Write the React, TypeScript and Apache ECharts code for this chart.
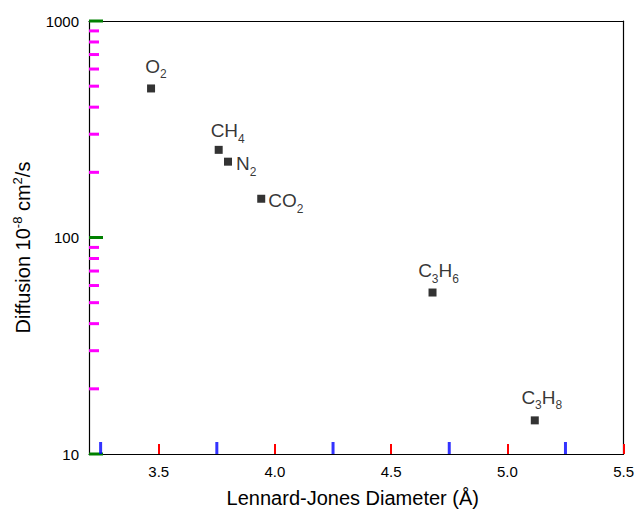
import React, { useEffect, useRef } from "react";
import * as echarts from "echarts";

const gases = ["O2", "CH4", "N2", "CO2", "C3H6", "C3H8"];
const ljDiameter = [3.467, 3.758, 3.798, 3.941, 4.678, 5.118];
const diffusion = [488, 254, 224, 151, 55.7, 14.3];
const labelSide = ["top", "top", "right", "right", "top", "top"];
const labelDistance = [4, 1, 4, 3, 4, 5];
const labelOffsetX = [5, 9, 0, 0, 6, 7];
const labelOffsetY = [0, 0, 2, 2, 0, 0];

const xMajor = [3.5, 4.0, 4.5, 5.0, 5.5];
const xMinor = [3.25, 3.75, 4.25, 4.75, 5.25];
const yMajor = [10, 100, 1000];
const yMinor = [20, 30, 40, 50, 60, 70, 80, 90, 200, 300, 400, 500, 600, 700, 800, 900];

const X_MIN = 3.2;
const X_MAX = 5.5;
const Y_MIN = 10;
const Y_MAX = 1000;

const FONT = "Liberation Sans, Arial, Helvetica, sans-serif";
const INK = "#000";
const LINE = { color: INK, width: 1.2 };

function toRich(name: string): string {
  return name.replace(/([A-Za-z]+)/g, "{n|$1}").replace(/(\d+)/g, "{s|$1}");
}
function isMajor(list: number[], v: number): boolean {
  return list.some((m) => Math.abs(m - v) < 1e-6);
}

export default function App() {
  const ref = useRef<HTMLDivElement>(null);
  useEffect(() => {
    document.body.style.margin = "0";
    if (!ref.current) return;
    const chart = echarts.init(ref.current, null, { renderer: "svg" });
    const pointRich = {
      n: { fontSize: 19, lineHeight: 28, fontFamily: FONT, color: INK },
      s: { fontSize: 12, lineHeight: 12, fontFamily: FONT, color: INK, verticalAlign: "bottom" },
    };
    const data = gases.map((g, i) => ({
      value: [ljDiameter[i], diffusion[i]],
      name: g,
      label: {
        show: true,
        position: labelSide[i],
        distance: labelDistance[i],
        offset: [labelOffsetX[i], labelOffsetY[i]],
        formatter: toRich(g),
        rich: pointRich,
      },
    }));

    chart.setOption({
      animation: false,
      grid: { left: 89, right: 13, top: 21, bottom: 57 },
      xAxis: [
        {
          type: "value", min: X_MIN, max: X_MAX, position: "bottom",
          splitLine: { show: false },
          axisLine: { show: true, onZero: false, lineStyle: { color: INK, width: 1.2 } },
          axisTick: { show: true, inside: true, length: 10, customValues: xMajor, lineStyle: { color: "red", width: 2 } },
          axisLabel: { formatter: (v: number) => (isMajor(xMajor, v) ? v.toFixed(1) : ""), fontSize: 15, fontFamily: FONT, color: INK, margin: 10 },
          name: "Lennard-Jones Diameter (Å)", nameLocation: "middle", nameGap: 34,
          nameTextStyle: { fontSize: 20, fontFamily: FONT, color: INK, padding: [0, 7, 0, 0] },
        },
        {
          type: "value", min: X_MIN, max: X_MAX, position: "top",
          splitLine: { show: false }, axisLabel: { show: false },
          axisLine: { show: true, onZero: false, lineStyle: LINE }, axisTick: { show: false },
        },
      ],
      yAxis: [
        {
          type: "log", logBase: 10, min: Y_MIN, max: Y_MAX, position: "left",
          splitLine: { show: false },
          axisLine: { show: true, onZero: false, lineStyle: { color: INK, width: 1.2 } },
          axisTick: { show: false },
          axisLabel: { formatter: (v: number) => (isMajor(yMajor, v) ? String(v) : ""), fontSize: 15, fontFamily: FONT, color: INK, margin: 10 },
          name: "{n|Diffusion 10}{sup|-8}{n| cm}{sup|2}{n|/s}", nameLocation: "middle", nameGap: 54, nameRotate: 90,
          nameTextStyle: {
            fontSize: 20, fontFamily: FONT, color: INK, padding: [0, 20, 0, 0],
            rich: {
              n: { fontSize: 20, lineHeight: 24, fontFamily: FONT, color: INK },
              sup: { fontSize: 13, lineHeight: 13, fontFamily: FONT, color: INK, verticalAlign: "top" },
            },
          },
        },
        {
          type: "log", logBase: 10, min: Y_MIN, max: Y_MAX, position: "right",
          splitLine: { show: false }, axisLabel: { show: false },
          axisLine: { show: true, onZero: false, lineStyle: LINE }, axisTick: { show: false },
        },
      ],
      series: [
        {
          type: "scatter", name: "xMinorTicks", silent: true, clip: false, symbol: "rect",
          symbolSize: [3, 12], symbolOffset: [0, -6], itemStyle: { color: "blue" },
          data: xMinor.map((v) => [v, Y_MIN]),
        },
        {
          type: "custom", name: "yMajorTicks", silent: true, clip: false,
          data: yMajor.map((v) => [X_MIN, v]),
          encode: { x: 0, y: 1 },
          renderItem: (params: any, api: any) => {
            const p = api.coord([api.value(0), api.value(1)]);
            return { type: "line", shape: { x1: p[0], y1: p[1], x2: p[0] + 14, y2: p[1] }, style: { stroke: "green", lineWidth: 3 } };
          },
        },
        {
          type: "scatter", name: "Diffusion", symbol: "rect", symbolSize: 8, itemStyle: { color: "#000" }, data,
        },
      ],
    });

    const xLeft = chart.convertToPixel({ xAxisIndex: 0 }, X_MIN) as number;
    const els: any[] = yMinor.map((v) => {
      const py = chart.convertToPixel({ yAxisIndex: 0 }, v) as number;
      return { type: "line", silent: true, z: 100, shape: { x1: xLeft, y1: py, x2: xLeft + 10, y2: py }, style: { stroke: "magenta", lineWidth: 3 } };
    });
    chart.setOption({ graphic: els });
    return () => chart.dispose();
  }, []);
  return <div ref={ref} style={{ width: 637, height: 513 }} />;
}
